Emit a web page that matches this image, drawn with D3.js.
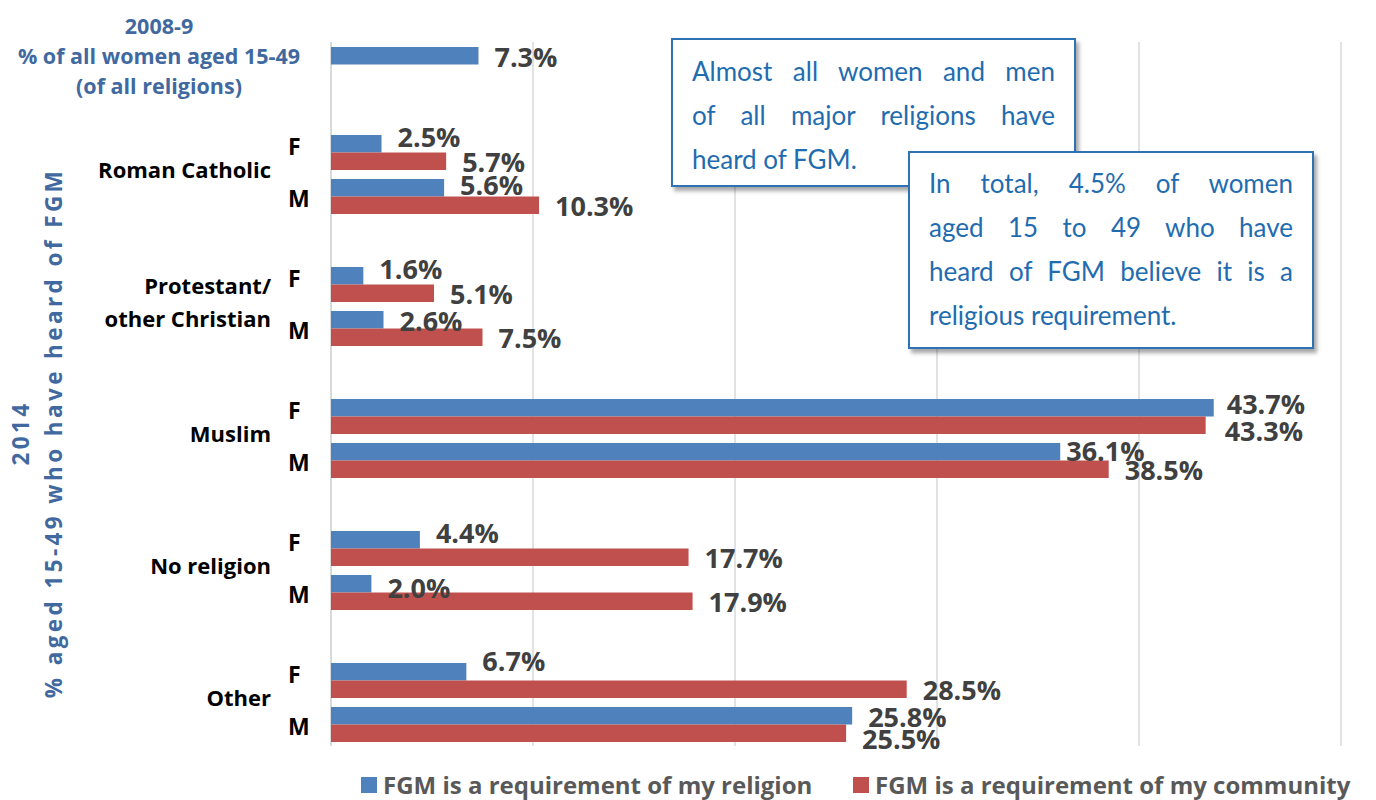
<!DOCTYPE html>
<html>
<head>
<meta charset="utf-8">
<script src="https://cdn.jsdelivr.net/npm/d3@7.9.0/dist/d3.min.js"></script>
<style>
  html, body { margin: 0; padding: 0; background: #fff; }
  #wrap { position: relative; width: 1376px; height: 800px; overflow: hidden; }
  svg { display: block; font-family: "Open Sans", Lato, sans-serif; }
  .note {
    position: absolute; box-sizing: border-box; background: #fff;
    border: 2px solid #2e72b3; box-shadow: 3px 4px 4px rgba(0,0,0,0.35);
    font-family: Lato, "Open Sans", sans-serif; font-size: 26px; color: #1f6cb0;
    line-height: 44px;
  }
  .note div { white-space: nowrap; text-align: justify; text-align-last: justify; }
  .note div.last { text-align-last: left; }
</style>
</head>
<body>
<div id="wrap">
<svg id="chart" width="1376" height="800"></svg>
</div>
<script>
// data
const religions = ['Roman Catholic', 'Protestant/\nother Christian', 'Muslim', 'No religion', 'Other'];
const sexes = ['F', 'M'];
const religionReq = [[2.5, 5.6], [1.6, 2.6], [43.7, 36.1], [4.4, 2.0], [6.7, 25.8]];
const communityReq = [[5.7, 10.3], [5.1, 7.5], [43.3, 38.5], [17.7, 17.9], [28.5, 25.5]];
const allWomen2008 = 7.3;
const xTicks = [0, 10, 20, 30, 40, 50];
const seriesNames = ['FGM is a requirement of my religion', 'FGM is a requirement of my community'];
const leftTitle = ['2008-9', '% of all women aged 15-49', '(of all religions)'];
const axisTitle = ['2014', '% aged 15-49 who have heard of FGM'];
const note1 = ['Almost all women and men', 'of all major religions have', 'heard of FGM.'];
const note2 = ['In total, 4.5% of women', 'aged 15 to 49 who have', 'heard of FGM believe it is a', 'religious requirement.'];

const blue = '#4f81bd', red = '#c0504d';
const titleBlue = '#41699f';

const svg = d3.select('#chart');

// one row for 2008-9, then a spacer row before each F/M pair
const rowKeys = ['base'];
religions.forEach((r, i) => {
  rowKeys.push('gap' + i);
  sexes.forEach(s => rowKeys.push(i + s));
});

const x = d3.scaleLinear().domain([0, 50]).range([331, 1341]);
const y = d3.scaleBand().domain(rowKeys).range([42.5, 746.5])
  .paddingInner(9 / 44).paddingOuter(4.5 / 44);
const ySub = d3.scaleBand().domain(['religion', 'community']).range([0, y.bandwidth()]);

// gridlines
svg.append('g').selectAll('line')
  .data(xTicks)
  .join('line')
  .attr('x1', d => x(d)).attr('x2', d => x(d))
  .attr('y1', 42).attr('y2', 746)
  .attr('stroke', '#d9d9d9')
  .attr('stroke-width', d => d === 0 ? 2 : 1.5);

// bars
const bars = [{ row: 'base', key: 'religion', sex: null, value: allWomen2008 }];
religions.forEach((r, i) => {
  sexes.forEach((s, j) => {
    bars.push({ row: i + s, key: 'religion', sex: s, value: religionReq[i][j] });
    bars.push({ row: i + s, key: 'community', sex: s, value: communityReq[i][j] });
  });
});

svg.append('g').selectAll('rect')
  .data(bars)
  .join('rect')
  .attr('x', x(0))
  .attr('y', d => y(d.row) + ySub(d.key))
  .attr('width', d => x(d.value) - x(0))
  .attr('height', ySub.bandwidth())
  .attr('fill', d => d.key === 'religion' ? blue : red);

// value labels: Excel moved a few of them to dodge each other
const nudge = { '2Fcommunity': [3, 5], '2Freligion': [-3, 3], '2Mreligion': [-10, -2], '4Freligion': [0, -4], '4Mcommunity': [0, 5], '0Mreligion': [0, -4], '3Mreligion': [0, 3] };
svg.append('g').selectAll('text')
  .data(bars)
  .join('text')
  .attr('x', d => x(d.value) + 16 + (nudge[d.row + d.key] || [0, 0])[0])
  .attr('y', d => {
    const base = y(d.row) + ySub(d.key) + ySub.bandwidth() / 2 + 1.5;
    const lift = d.sex === 'F' && d.key === 'religion' ? -8 : 0;
    return base + lift + (nudge[d.row + d.key] || [0, 0])[1];
  })
  .attr('dy', '0.36em')
  .attr('font-size', 27)
  .attr('font-weight', 700)
  .attr('fill', '#404040')
  .text(d => d.value.toFixed(1) + '%');

// F / M labels
const sexLabels = [];
religions.forEach((r, i) => sexes.forEach(s => sexLabels.push({ row: i + s, s })));
svg.append('g').selectAll('text')
  .data(sexLabels)
  .join('text')
  .attr('x', 288)
  .attr('y', d => y(d.row) + y.bandwidth() / 2 + (d.s === 'F' ? -6 : 2))
  .attr('dy', '0.36em')
  .attr('font-size', 23)
  .attr('font-weight', 700)
  .attr('fill', '#000')
  .text(d => d.s);

// religion labels
const relG = svg.append('g');
religions.forEach((r, i) => {
  const mid = (y(i + 'F') + y(i + 'M') + y.bandwidth()) / 2 - 4;
  const lines = r.split('\n');
  const t = relG.append('text')
    .attr('text-anchor', 'end')
    .attr('font-size', 22)
    .attr('font-weight', 700)
    .attr('fill', '#000');
  lines.forEach((ln, k) => {
    t.append('tspan')
      .attr('x', 271)
      .attr('y', mid + (k - (lines.length - 1) / 2) * 33)
      .attr('dy', '0.36em')
      .text(ln);
  });
});

// 2008-9 title
const t08 = svg.append('text')
  .attr('text-anchor', 'middle')
  .attr('font-size', 21.5)
  .attr('font-weight', 700)
  .attr('fill', titleBlue);
leftTitle.forEach((s, k) => {
  t08.append('tspan').attr('x', 159).attr('y', 26 + k * 30).attr('dy', '0.36em').text(s);
});

// vertical title
const vt = svg.append('g').attr('transform', 'translate(0,433) rotate(-90)');
vt.selectAll('text')
  .data(axisTitle)
  .join('text')
  .attr('x', 0)
  .attr('y', (d, i) => 21 + i * 33)
  .attr('dy', '0.36em')
  .attr('text-anchor', 'middle')
  .attr('font-size', 22.5).attr('font-weight', 700)
  .attr('letter-spacing', 3.4)
  .attr('fill', titleBlue)
  .text(d => d);

// legend
const legendX = [361, 853];
const legend = svg.append('g').selectAll('g')
  .data(seriesNames)
  .join('g')
  .attr('transform', (d, i) => `translate(${legendX[i]},785)`);
legend.append('rect').attr('x', 0).attr('y', -8).attr('width', 16).attr('height', 16)
  .attr('fill', (d, i) => i === 0 ? blue : red);
legend.append('text')
  .attr('x', 22).attr('y', 0).attr('dy', '0.36em')
  .attr('font-size', 24).attr('font-weight', 700)
  .attr('fill', '#595959')
  .text(d => d);

// annotation boxes (HTML so the lines can be justified)
function noteBox(lines, left, top, w, h, padTop) {
  const box = d3.select('#wrap').append('div')
    .attr('class', 'note')
    .style('left', left + 'px').style('top', top + 'px')
    .style('width', w + 'px').style('height', h + 'px')
    .style('padding', `${padTop}px 19px 0 19px`);
  box.selectAll('div')
    .data(lines)
    .join('div')
    .classed('last', (d, i) => i === lines.length - 1)
    .text(d => d);
}

noteBox(note1, 671, 38, 405, 149, 9);
noteBox(note2, 908, 151, 406, 198, 8);
</script>
</body>
</html>
